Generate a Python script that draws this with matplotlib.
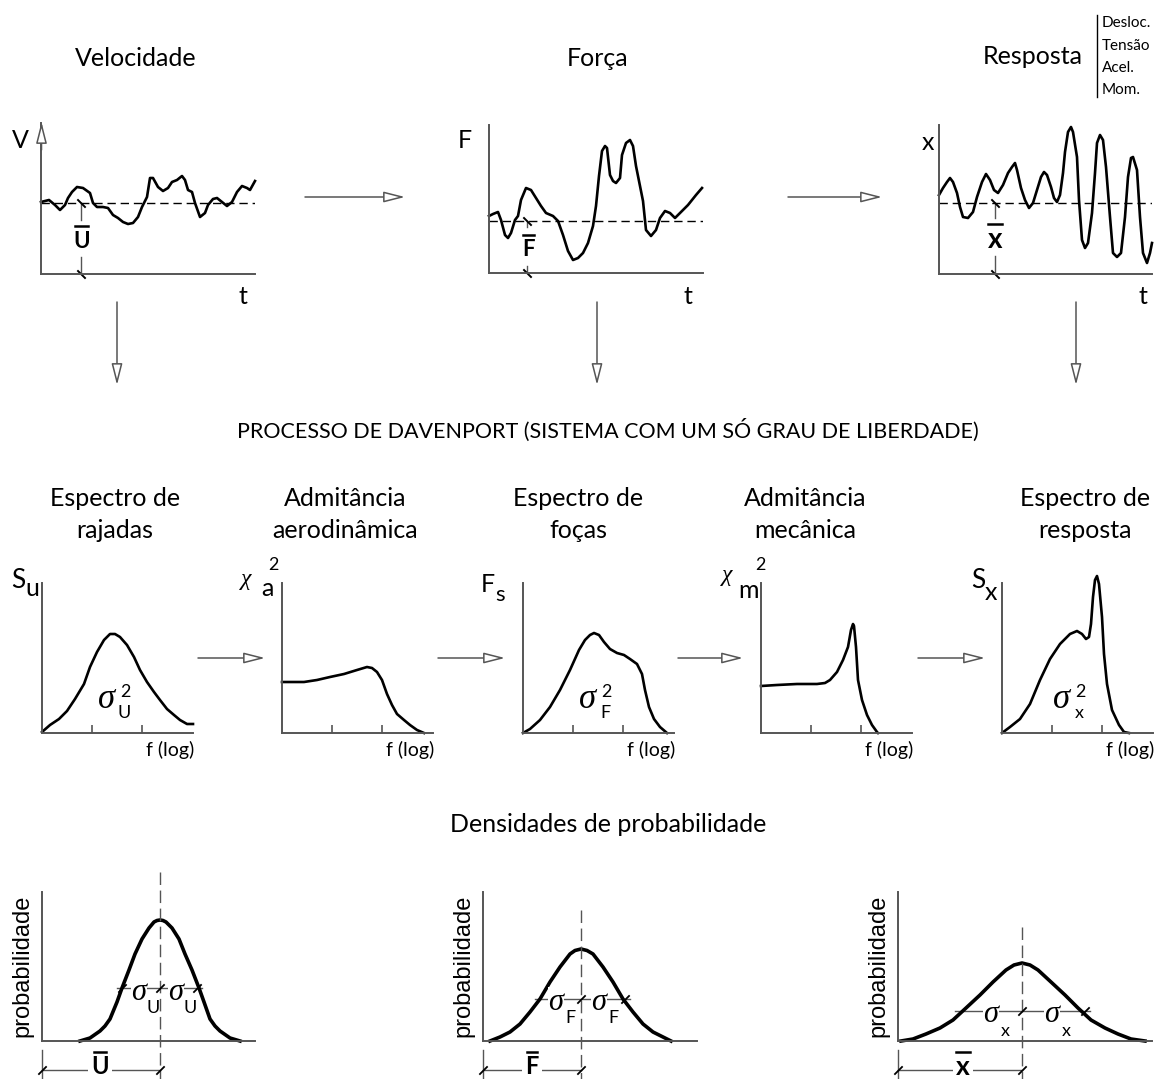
import matplotlib
matplotlib.use("Agg")
import matplotlib.pyplot as plt
from matplotlib.patches import FancyArrowPatch

W, H = 1163, 1079
FONT = "Lato"
AXC = "#555555"

# ---- top row: time histories (t, amplitude in sketch units) ----
vel_t = [0, 8, 14, 19, 24, 27, 31, 36, 42, 49, 52, 56, 62, 67, 72, 77, 82, 87, 92, 97, 101, 106, 109, 112,
         117, 122, 127, 131, 136, 141, 144, 147, 151, 154, 159, 164, 167, 172, 176, 181, 186, 191, 196,
         201, 206, 209, 214]
vel_v = [72, 74, 69, 64, 69, 76, 82, 87, 86, 81, 71, 67, 67, 66, 59, 56, 52, 50, 51, 57, 67, 77, 96, 96,
         87, 83, 86, 92, 94, 98, 94, 84, 82, 71, 57, 61, 69, 75, 76, 72, 68, 72, 82, 88, 86, 84, 93]
vel_mean, vel_mark = 71, 40

force_t = [0, 4, 9, 12, 16, 19, 22, 26, 29, 32, 37, 42, 47, 52, 57, 64, 69, 74, 79, 84, 89, 94, 99, 104,
           107, 110, 113, 116, 118, 121, 124, 127, 131, 133, 137, 141, 144, 147, 151, 154, 157, 162,
           167, 171, 176, 181, 186, 191, 199, 207, 213]
force_v = [57, 59, 61, 53, 38, 35, 40, 53, 57, 73, 85, 83, 75, 67, 60, 57, 52, 38, 22, 13, 15, 20, 30, 47,
           67, 97, 122, 127, 125, 98, 92, 90, 95, 118, 130, 133, 127, 107, 87, 72, 43, 37, 43, 55, 62,
           60, 55, 60, 68, 78, 85]
force_mean, force_mark = 52, 38

resp_t = [0, 4, 8, 11, 14, 18, 21, 24, 29, 34, 38, 43, 47, 51, 55, 59, 64, 69, 73, 76, 78, 82, 86, 90,
          94, 98, 102, 105, 108, 112, 115, 118, 121, 124, 126, 129, 132, 134, 138, 140, 143, 146, 149,
          153, 156, 158, 161, 164, 167, 171, 174, 178, 182, 186, 189, 192, 194, 198, 201, 204, 208, 211, 213]
resp_v = [79, 86, 92, 96, 92, 81, 67, 57, 56, 62, 77, 92, 100, 94, 84, 81, 89, 101, 107, 111, 104, 86,
          74, 66, 71, 84, 97, 102, 99, 87, 76, 72, 79, 101, 122, 142, 147, 142, 117, 74, 34, 26, 31, 61,
          101, 131, 139, 134, 107, 57, 21, 17, 21, 57, 97, 116, 117, 104, 57, 21, 11, 21, 31]
resp_mean, resp_mark = 71, 56

# ---- middle row: spectra vs f (log) ----
su_f = [0, 8, 17, 25, 33, 42, 48, 55, 62, 68, 73, 78, 85, 92, 98, 105, 112, 118, 125, 132, 138, 145, 151]
su_s = [1, 8, 14, 22, 34, 49, 66, 81, 93, 99, 99, 96, 88, 76, 63, 51, 41, 33, 24, 18, 13, 9, 9]
xa_f = [0, 8, 22, 35, 48, 62, 75, 85, 90, 95, 100, 105, 110, 115, 122, 128, 135, 142]
xa_s = [51, 51, 51, 53, 56, 59, 63, 66, 65, 61, 53, 39, 28, 19, 13, 8, 3, 0]
fs_f = [0, 7, 17, 27, 37, 47, 56, 62, 67, 71, 76, 81, 87, 94, 101, 107, 114, 119, 122, 126, 131, 137, 144]
fs_s = [0, 4, 13, 26, 43, 63, 83, 93, 98, 100, 98, 91, 84, 80, 78, 74, 69, 59, 43, 26, 14, 6, 0]
xm_f = [0, 16, 36, 56, 64, 69, 76, 82, 87, 90, 92, 93, 95, 97, 101, 106, 111, 116, 117]
xm_s = [47, 48, 49, 49, 50, 53, 61, 73, 86, 103, 109, 107, 86, 53, 33, 18, 8, 1, 0]
sx_f = [0, 8, 18, 28, 38, 48, 58, 68, 75, 80, 84, 87, 89, 91, 93, 95, 97, 100, 102, 105, 110, 117, 122, 127]
sx_s = [0, 6, 14, 29, 53, 74, 89, 99, 102, 99, 94, 96, 109, 136, 153, 157, 149, 116, 79, 49, 23, 8, 1, 0]
freq_ticks = [50, 100]

# ---- bottom row: probability densities ----
u_x = [38, 48, 58, 63, 68, 75, 80, 87, 93, 100, 107, 112, 115, 118, 121, 124, 130, 137, 143, 150, 157,
       162, 168, 173, 178, 188, 198]
u_p = [0, 3, 10, 15, 22, 39, 53, 71, 87, 102, 113, 119, 120.5, 121, 120.5, 119, 113, 102, 87, 71, 53,
       39, 22, 15, 10, 3, 0]
f_x = [7, 17, 27, 37, 47, 57, 67, 77, 87, 92, 98, 104, 110, 120, 130, 140, 150, 160, 170, 180, 188]
f_p = [0, 4, 9, 17, 29, 42, 59, 74, 87, 90.5, 92, 90.5, 87, 74, 59, 42, 29, 17, 9, 4, 0]
x_x = [3, 15, 28, 42, 55, 68, 82, 95, 108, 116, 124, 132, 140, 153, 167, 180, 193, 207, 220, 233, 247]
x_p = [0, 2, 7, 13, 21, 33, 46, 59, 71, 76, 78, 76, 71, 59, 46, 33, 21, 13, 7, 2, 0]
dens_mean = [118, 98, 124]
dens_sigma = [(80, 155), (57, 142), (62, 187)]
dens_sig_level = [53, 42, 30]

fig = plt.figure(figsize=(W / 100, H / 100), dpi=100)
ov = fig.add_axes([0, 0, 1, 1], zorder=5)
ov.set_xlim(0, W); ov.set_ylim(H, 0); ov.axis("off")

BACK = [(-1, 1), (1, -1)]   # "\" tick
FWD = [(-1, -1), (1, 1)]    # "/" tick


def panel(x0, y0, x1, y1):
    ax = fig.add_axes([x0 / W, 1 - y1 / H, (x1 - x0) / W, (y1 - y0) / H])
    ax.set_xlim(0, x1 - x0); ax.set_ylim(0, y1 - y0)
    ax.set_facecolor("none")
    for s in ("top", "right"):
        ax.spines[s].set_visible(False)
    for s in ("left", "bottom"):
        ax.spines[s].set_color(AXC); ax.spines[s].set_linewidth(1.4)
    ax.set_xticks([]); ax.set_yticks([])
    return ax


def txt(x, y, s, size=17, **kw):
    kw.setdefault("family", FONT)
    ov.text(x, y, s, ha=kw.pop("ha", "center"), va=kw.pop("va", "center"), fontsize=size, **kw)


def arrow(x0, y0, x1, y1):
    ov.add_patch(FancyArrowPatch((x0, y0), (x1, y1), arrowstyle="-|>,head_length=13,head_width=3.3",
                                 mutation_scale=1, fc="white", ec=AXC, lw=1.1,
                                 shrinkA=0, shrinkB=0, zorder=6))


def barred(x, y, s, size, bar_y, half):
    txt(x, y, s, size, fontweight="bold")
    ov.plot([x - half, x + half], [bar_y, bar_y], color="black", lw=1.8)


# ---------------- top row ----------------
top = [(41, 123, 255, 274, vel_t, vel_v, vel_mean, vel_mark, (54, 17)),
       (489, 125, 703, 273, force_t, force_v, force_mean, force_mark, (46, 7)),
       (939, 125, 1152, 274, resp_t, resp_v, resp_mean, resp_mark, (56, 18))]
for x0, y0, x1, y1, t, v, mean, mark, (gap_hi, gap_lo) in top:
    ax = panel(x0, y0, x1, y1)
    ax.plot(t, v, color="black", lw=1.9, clip_on=False)
    ax.axhline(mean, color="black", lw=1, ls=(0, (6, 3.5)))
    ax.plot([mark, mark], [mean, gap_hi], color=AXC, lw=1)
    ax.plot([mark, mark], [gap_lo, 0], color=AXC, lw=1)
    ax.plot([mark, mark], [mean, 0], ls="none", marker=BACK, ms=6, mec="black", mew=1.4, clip_on=False)

arrow(41.5, 150, 41.5, 122)
txt(136, 58, "Velocidade", 18); txt(598, 58, "Força", 18); txt(1033, 57, "Resposta", 18)
ov.plot([1097, 1097], [15, 97], color="black", lw=1)
for i, s in enumerate(["Desloc.", "Tensão", "Acel.", "Mom."]):
    txt(1102, 23 + 22.5 * i, s, 11, ha="left")
txt(20, 140, "V", 18); txt(465, 141, "F", 18); txt(928, 143, "x", 18)
txt(243, 296, "t", 18); txt(688, 296, "t", 18); txt(1143, 296, "t", 18)
barred(81.7, 241, "U", 16, 226, 6.5)
barred(528, 250, "F", 16, 235, 5.5)
barred(995, 240, "x", 20, 224, 7)

arrow(305, 197, 405, 197); arrow(788, 197, 882, 197)
for x in (117, 597, 1076):
    arrow(x, 302, x, 385)

txt(608, 430, "PROCESSO DE DAVENPORT (SISTEMA COM UM SÓ GRAU DE LIBERDADE)", 15.5)

# ---------------- middle row ----------------
mid = [(42, su_f, su_s), (282, xa_f, xa_s), (523, fs_f, fs_s), (761, xm_f, xm_s), (1002, sx_f, sx_s)]
for x0, f, s in mid:
    ax = panel(x0, 583, x0 + 151, 733)
    ax.plot(f, s, color="black", lw=1.9, clip_on=False)
    ax.set_xticks(freq_ticks)
    ax.tick_params(axis="x", direction="in", length=6, width=1.2, color=AXC, labelbottom=False)
    txt(x0 + 128, 750, "f (log)", 14)

titles = [(115, "Espectro de", "rajadas"), (345, "Admitância", "aerodinâmica"),
          (578, "Espectro de", "foças"), (805, "Admitância", "mecânica"),
          (1085, "Espectro de", "resposta")]
for x, a, b in titles:
    txt(x, 498, a, 18); txt(x, 531, b, 18)

for x0, x1 in [(198, 265), (438, 505), (678, 743), (918, 985)]:
    arrow(x0, 658, x1, 658)

SIG = dict(family="Liberation Serif", style="italic")
txt(18, 580, "S", 19); txt(32, 589, "u", 18)
txt(246, 580, "χ", 17, **SIG); txt(267, 589, "a", 18); txt(273, 565, "2", 13)
txt(488, 584, "F", 18); txt(500, 595, "s", 16)
txt(727, 576, "χ", 17, **SIG); txt(748, 590, "m", 18); txt(760, 565, "2", 13)
txt(978, 581, "S", 19); txt(991, 592, "x", 18)
for x, y, sub in [(107, 700, "U"), (588, 700, "F"), (1062, 700, "x")]:
    txt(x, y, "σ", 25, **SIG)
    txt(x + 18, y - 8, "2", 13)
    txt(x + 17, y + 13, sub, 13)

txt(608, 825, "Densidades de probabilidade", 18)

# ---------------- bottom row ----------------
bot = [(42, 255, u_x, u_p, 872), (483, 697, f_x, f_p, 910), (898, 1152, x_x, x_p, 927)]
for i, (x0, x1, xs, ps, dash_top) in enumerate(bot):
    ax = panel(x0, 892, x1, 1041)
    ax.plot(xs, ps, color="black", lw=2.6, clip_on=False)
    m = dens_mean[i]
    ax.plot([m, m], [1041 - dash_top, 1041 - 1079], color=AXC, lw=1, ls=(0, (9, 4)), clip_on=False)
    lo, hi = dens_sigma[i]
    lvl = dens_sig_level[i]
    ax.plot([lo - 5, hi + 5], [lvl, lvl], color=AXC, lw=1, zorder=1)
    ticks = [lo, m, hi] if i == 0 else [m, hi]
    ax.plot(ticks, [lvl] * len(ticks), ls="none", marker=FWD, ms=6, mec="black", mew=1.3, clip_on=False)
    # dimension line for the mean value
    ax.plot([0, 0], [-9, -38], color=AXC, lw=1, clip_on=False)
    ax.plot([0, m], [-28.5, -28.5], color=AXC, lw=1, clip_on=False)
    ax.plot([0, m], [-28.5, -28.5], ls="none", marker=FWD, ms=6, mec="black", mew=1.3, clip_on=False)
    txt(x0 - 20, 966, "probabilidade", 17, family="Liberation Sans", rotation=90)

WB = dict(facecolor="white", edgecolor="none", pad=0.5)
for x, y, sub in [(139, 992, "U"), (176, 992, "U"), (556, 1002, "F"), (599, 1002, "F"),
                  (991, 1015, "x"), (1052, 1015, "x")]:
    txt(x, y, "σ", 22, bbox=WB, **SIG)
    txt(x + 14, y + 16, sub, 13)

for x, lab, size, half in [(100, "U", 17, 6), (532, "F", 17, 5), (963, "x", 19, 7)]:
    ov.text(x, 1067, lab, ha="center", va="center", fontsize=size, family=FONT, fontweight="bold",
            bbox=dict(facecolor="white", edgecolor="none", pad=2), zorder=7)
    ov.plot([x - half, x + half], [1052, 1052], color="black", lw=1.8, zorder=8)

fig.savefig("out.png", dpi=100)
